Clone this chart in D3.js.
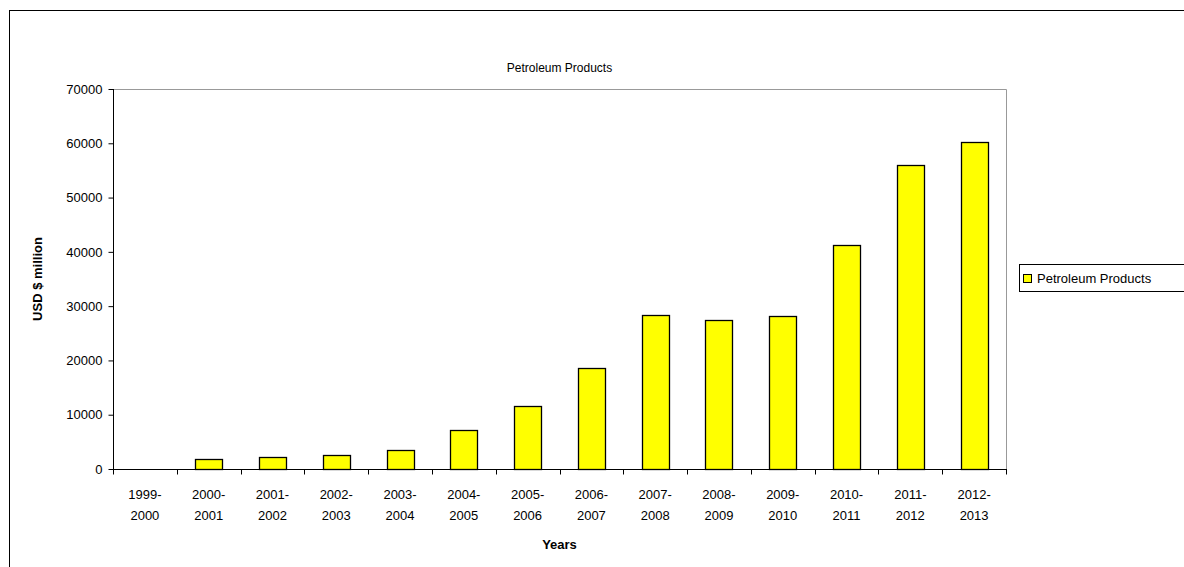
<!DOCTYPE html>
<html>
<head>
<meta charset="utf-8">
<script src="https://cdn.jsdelivr.net/npm/d3@7"></script>
<style>
body { margin: 0; background: #fff; }
text { font-family: "Liberation Sans", Arial, sans-serif; fill: #000; }
</style>
</head>
<body>
<div class="chart"></div>
<script>
// data
var years = ["1999-2000", "2000-2001", "2001-2002", "2002-2003", "2003-2004", "2004-2005", "2005-2006",
    "2006-2007", "2007-2008", "2008-2009", "2009-2010", "2010-2011", "2011-2012", "2012-2013"];
var values = [0, 1900, 2150, 2600, 3550, 7100, 11550, 18600, 28350, 27450, 28150, 41300, 55950, 60200];
var yTicks = [0, 10000, 20000, 30000, 40000, 50000, 60000, 70000];
var seriesName = "Petroleum Products";

var W = 1184, H = 567;
var pLeft = 113, pRight = 1006, pTop = 89, pBottom = 469;

var svg = d3.select(".chart").append("svg")
    .attr("width", W)
    .attr("height", H);

// outer frame
svg.append("rect")
    .attr("x", 9.5).attr("y", 10.5)
    .attr("width", W).attr("height", H)
    .attr("fill", "none")
    .attr("stroke", "#000")
    .attr("stroke-width", 1);

var x = d3.scaleBand().domain(years).range([pLeft, pRight]).paddingInner(0).paddingOuter(0);
var y = d3.scaleLinear().domain([0, 70000]).range([pBottom, pTop]);

// plot area top/right border
svg.append("path")
    .attr("d", "M" + pLeft + "," + (pTop + 0.5) + "H" + (pRight + 0.5) + "V" + pBottom)
    .attr("fill", "none")
    .attr("stroke", "#999");

var bars = years.map(function(d, i) { return {year: d, value: values[i]}; })
    .filter(function(d) { return d.value > 0; });

var barW = 27;
svg.selectAll("rect.bar")
    .data(bars)
    .enter()
    .append("rect")
    .attr("class", "bar")
    .attr("x", function(d) { return Math.round(x(d.year) + (x.bandwidth() - barW) / 2) + 0.5; })
    .attr("y", function(d) { return Math.round(y(d.value)) + 0.5; })
    .attr("width", barW)
    .attr("height", function(d) { return Math.round(pBottom - y(d.value)); })
    .attr("fill", "#ffff00")
    .attr("stroke", "#000")
    .attr("stroke-width", 1.3);

// y axis
var yAxis = svg.append("g")
    .attr("transform", "translate(" + (pLeft + 0.5) + ",0)")
    .call(d3.axisLeft(y).tickValues(yTicks).tickSize(5).tickPadding(6).tickFormat(d3.format("d")));
yAxis.select(".domain").attr("stroke", "#000").attr("d", "M0," + pTop + "V" + pBottom);
yAxis.selectAll(".tick line").attr("stroke", "#000");
yAxis.selectAll("text").style("font-size", "13px").attr("fill", "#000")
    .style("font-family", "'Liberation Sans', Arial, sans-serif");

// x axis
var xAxis = svg.append("g")
    .attr("transform", "translate(0," + (pBottom + 0.5) + ")");
xAxis.append("line")
    .attr("x1", pLeft).attr("x2", pRight + 1)
    .attr("stroke", "#000");
var bounds = years.map(function(d) { return x(d); }).concat([pRight]);
xAxis.selectAll("line.tick")
    .data(bounds)
    .enter()
    .append("line")
    .attr("class", "tick")
    .attr("x1", function(d) { return Math.round(d) + 0.5; })
    .attr("x2", function(d) { return Math.round(d) + 0.5; })
    .attr("y1", 0).attr("y2", 5)
    .attr("stroke", "#000");

var lbl = svg.selectAll("text.xl")
    .data(years)
    .enter()
    .append("text")
    .attr("class", "xl")
    .attr("text-anchor", "middle")
    .style("font-size", "13px");
lbl.append("tspan")
    .attr("x", function(d) { return x(d) + x.bandwidth() / 2; })
    .attr("y", 499)
    .text(function(d) { return d.split("-")[0] + "-"; });
lbl.append("tspan")
    .attr("x", function(d) { return x(d) + x.bandwidth() / 2; })
    .attr("y", 520)
    .text(function(d) { return d.split("-")[1]; });

// titles
svg.append("text")
    .attr("x", (pLeft + pRight) / 2)
    .attr("y", 72)
    .attr("text-anchor", "middle")
    .style("font-size", "12px")
    .text(seriesName);

svg.append("text")
    .attr("x", (pLeft + pRight) / 2)
    .attr("y", 549)
    .attr("text-anchor", "middle")
    .style("font-size", "13px")
    .style("font-weight", "bold")
    .text("Years");

svg.append("text")
    .attr("transform", "translate(42," + ((pTop + pBottom) / 2) + ") rotate(-90)")
    .attr("text-anchor", "middle")
    .style("font-size", "13px")
    .style("font-weight", "bold")
    .text("USD $ million");

// legend
var lg = svg.append("g").attr("transform", "translate(1019,264)");
lg.append("rect")
    .attr("x", 0.5).attr("y", 0.5)
    .attr("width", 180).attr("height", 27)
    .attr("fill", "#fff")
    .attr("stroke", "#000");
lg.append("rect")
    .attr("x", 4.5).attr("y", 10.5)
    .attr("width", 8).attr("height", 8)
    .attr("fill", "#ffff00")
    .attr("stroke", "#000");
lg.append("text")
    .attr("x", 18)
    .attr("y", 19)
    .style("font-size", "13px")
    .text(seriesName);
</script>
</body>
</html>
